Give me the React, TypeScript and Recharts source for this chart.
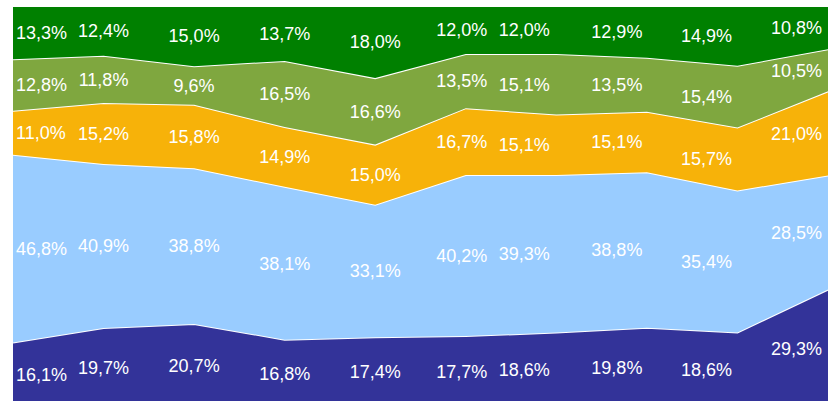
import React from "react";
import { AreaChart, Area, Line, XAxis, YAxis } from "recharts";

// ten periods, no axis labels visible in the picture
const periods = ["1", "2", "3", "4", "5", "6", "7", "8", "9", "10"];

// layers from bottom to top, shares in %
const darkBlue = [16.1, 19.7, 20.7, 16.8, 17.4, 17.7, 18.6, 19.8, 18.6, 29.3];
const lightBlue = [46.8, 40.9, 38.8, 38.1, 33.1, 40.2, 39.3, 38.8, 35.4, 28.5];
const orange = [11.0, 15.2, 15.8, 14.9, 15.0, 16.7, 15.1, 15.1, 15.7, 21.0];
const olive = [12.8, 11.8, 9.6, 16.5, 16.6, 13.5, 15.1, 13.5, 15.4, 10.5];
const darkGreen = [13.3, 12.4, 15.0, 13.7, 18.0, 12.0, 12.0, 12.9, 14.9, 10.8];

const seriesList = [
  { key: "s1", values: darkBlue, color: "#333399" },
  { key: "s2", values: lightBlue, color: "#99ccff" },
  { key: "s3", values: orange, color: "#f7b209" },
  { key: "s4", values: olive, color: "#7fa73f" },
  { key: "s5", values: darkGreen, color: "#008000" },
];

// table for recharts; the *Mid fields are where each label sits (middle of its band)
const chartData = periods.map((p, i) => {
  const total = seriesList.reduce((s, ser) => s + ser.values[i], 0);
  const row: Record<string, number | string> = { period: p };
  let below = 0;
  seriesList.forEach((ser) => {
    row[ser.key] = ser.values[i];
    row[ser.key + "Mid"] = (below + ser.values[i] / 2) / total;
    below += ser.values[i];
  });
  return row;
});

// horizontal nudge of the labels, the original pushes some of them left
const labelShift = [0, 0, 0, 0, 0, -4, -32, -30, -31, 0];

const renderLabel = (values: number[]) => (props: any) => {
  const { cx, cy, index } = props;
  let anchor: "start" | "middle" | "end" = "middle";
  let x = cx + labelShift[index];
  if (index === 0) {
    anchor = "start";
    x = cx + 3;
  } else if (index === periods.length - 1) {
    anchor = "end";
    x = cx - 6;
  }
  return (
    <text
      key={`lbl-${index}`}
      x={x}
      y={cy}
      dy="0.35em"
      textAnchor={anchor}
      fill="#ffffff"
      fontSize={18}
      fontFamily="'Liberation Sans', Arial, sans-serif"
    >
      {values[index].toFixed(1).replace(".", ",")}%
    </text>
  );
};

export default function App() {
  return (
    <div
      style={{
        position: "absolute",
        left: 0,
        top: 0,
        width: 828,
        height: 401,
        overflow: "hidden",
        background: "#fff",
      }}
    >
      <AreaChart
        width={828}
        height={407}
        data={chartData}
        stackOffset="expand"
        margin={{ top: 6, right: 0, bottom: 0, left: 13 }}
      >
        <XAxis dataKey="period" hide />
        <YAxis hide domain={[0, 1]} />
        {seriesList.map((ser) => (
          <Area
            key={ser.key}
            type="linear"
            dataKey={ser.key}
            stackId="a"
            fill={ser.color}
            fillOpacity={1}
            stroke="#ffffff"
            strokeWidth={2}
            isAnimationActive={false}
          />
        ))}
        {seriesList.map((ser) => (
          <Line
            key={ser.key + "Mid"}
            type="linear"
            dataKey={ser.key + "Mid"}
            stroke="none"
            dot={renderLabel(ser.values)}
            activeDot={false}
            isAnimationActive={false}
          />
        ))}
      </AreaChart>
    </div>
  );
}
